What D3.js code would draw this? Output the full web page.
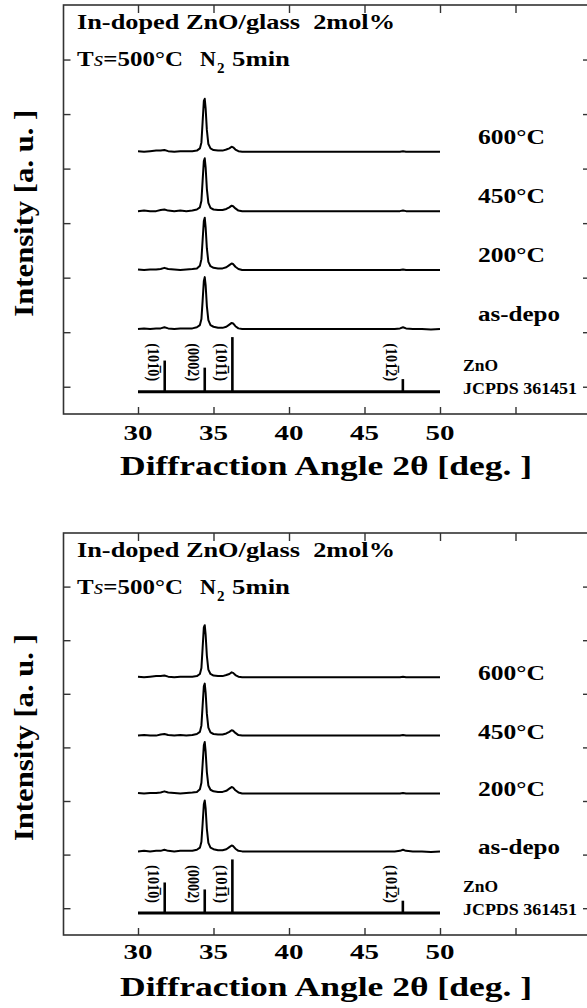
<!DOCTYPE html>
<html><head><meta charset="utf-8">
<script src="https://cdn.jsdelivr.net/npm/d3@7"></script>
<style>
body{margin:0;background:#fff}
svg text{font-family:"Liberation Serif",Tinos,"Times New Roman",serif;font-weight:700;fill:#000}
</style>
</head><body>
<svg id="c" width="587" height="1008"></svg>
<script>
// ---- data ----
const angles = [30.0,30.4,30.8,31.2,31.5,31.75,32.0,32.4,32.8,33.2,33.6,33.9,34.1,34.2,34.28,34.36,34.42,34.48,34.56,34.66,34.8,35.0,35.3,35.6,35.85,36.05,36.2,36.3,36.45,36.65,36.9,37.3,37.8,38.5,39.2,40.0,40.8,41.6,42.4,43.2,44.0,44.8,45.6,46.4,47.0,47.35,47.55,47.75,48.2,48.8,49.4,50.0];
const asDepo = [0.00,0.01,0.00,0.01,0.01,0.03,0.01,0.00,0.01,0.01,0.01,0.03,0.07,0.18,0.52,0.88,0.95,0.80,0.42,0.16,0.07,0.04,0.02,0.02,0.04,0.08,0.11,0.10,0.05,0.01,0.00,0.00,0.00,0.00,0.00,0.00,0.00,0.00,0.00,0.00,0.00,0.00,0.00,0.00,0.00,0.01,0.03,0.01,0.00,0.00,-0.01,0.00];
const t200 = [0.01,0.00,0.01,0.01,0.02,0.04,0.02,0.01,0.00,0.01,0.02,0.03,0.08,0.20,0.55,0.90,0.96,0.78,0.40,0.15,0.07,0.04,0.03,0.03,0.05,0.09,0.12,0.11,0.06,0.02,0.00,0.00,0.00,0.00,0.00,0.00,0.00,0.00,0.00,0.00,0.00,0.00,0.00,0.00,0.00,0.00,0.01,0.00,0.00,0.00,0.00,0.00];
const t450 = [0.00,0.01,0.00,0.00,0.02,0.03,0.01,0.00,0.01,0.00,0.01,0.03,0.07,0.19,0.56,0.92,0.97,0.80,0.41,0.15,0.06,0.03,0.02,0.02,0.04,0.07,0.10,0.09,0.05,0.01,0.00,0.00,0.00,0.00,0.00,0.00,0.00,0.00,0.00,0.00,0.00,0.00,0.00,0.00,0.00,0.00,0.01,0.00,0.00,0.00,0.00,0.00];
const t600 = [0.01,0.00,0.01,0.02,0.02,0.03,0.01,0.00,0.01,0.01,0.01,0.02,0.06,0.17,0.55,0.93,0.97,0.79,0.40,0.14,0.06,0.03,0.02,0.02,0.04,0.06,0.09,0.08,0.04,0.01,0.00,0.00,0.00,0.00,0.00,0.00,0.00,0.00,0.00,0.00,0.00,0.00,0.00,0.00,0.00,0.00,0.01,0.00,0.00,0.00,0.00,0.00];
const seriesValues = [asDepo, t200, t450, t600];
const seriesNames = ["as-depo","200°C","450°C","600°C"];
const seriesOffsets = [1.06, 2.14, 3.22, 4.31];

const refAngles = [31.77, 34.42, 36.25, 47.54];
const refIntensity = [57, 44, 100, 23];
const refLabels = ["(101\u03050)", "(0002)", "(101\u03051)", "(101\u03052)"];
const refBaseline = -0.09;
const refName = ["ZnO","JCPDS 361451"];

const xTickValues = [30,35,40,45,50,55];
const xTickLabels = ["30","35","40","45","50"];
const yTickValues = [0,1,2,3,4,5,6];

const titleLine1 = "In-doped ZnO/glass\u00a0\u00a02mol%";
const xTitle = "Diffraction Angle 2θ [deg. ]";
const yTitle = "Intensity [a. u. ]";

// ---- drawing ----
const svg = d3.select("#c");
const LEFT = 62.5, RIGHT = 591;

function drawPanel(top, bottom, labelDy, tickLabelDy){
  const g = svg.append("g");
  const x = d3.scaleLinear().domain([25,60]).range([LEFT, RIGHT]);
  const y = d3.scaleLinear().domain([-0.5,7]).range([bottom, top]);

  const ax = (gen, tr) => {
    const a = g.append("g").attr("transform", tr).call(gen);
    a.select(".domain").remove();
    a.selectAll("line").attr("stroke","#333").attr("stroke-width",1.4);
  };
  ax(d3.axisBottom(x).tickValues(xTickValues).tickSize(-7).tickFormat(""), `translate(0,${bottom})`);
  ax(d3.axisTop(x).tickValues(xTickValues).tickSize(-8).tickFormat(""), `translate(0,${top})`);
  ax(d3.axisLeft(y).tickValues(yTickValues).tickSize(-7).tickFormat(""), `translate(${LEFT+1},0)`);
  ax(d3.axisRight(y).tickValues(yTickValues).tickSize(-7).tickFormat(""), `translate(${RIGHT-1},0)`);

  g.append("rect").attr("x",LEFT+1).attr("y",top).attr("width",RIGHT-LEFT).attr("height",bottom-top)
    .attr("fill","none").attr("stroke","#333").attr("stroke-width",1.6);

  g.selectAll(".tl").data(xTickLabels).enter().append("text")
    .attr("x", d=>x(+d)).attr("y", bottom+tickLabelDy)
    .attr("text-anchor","middle").attr("font-size",22)
    .attr("textLength",29).attr("lengthAdjust","spacingAndGlyphs").text(d=>d);

  g.append("text").attr("x",326).attr("y",bottom+61).attr("text-anchor","middle")
    .attr("font-size",27).attr("textLength",412).attr("lengthAdjust","spacingAndGlyphs").text(xTitle);
  const yc = top + (bottom-top)*0.509;
  g.append("text").attr("transform",`translate(24,${yc}) rotate(-90)`).attr("text-anchor","middle")
    .attr("dominant-baseline","central")
    .attr("font-size",27).attr("textLength",207).attr("lengthAdjust","spacingAndGlyphs").text(yTitle);

  g.append("text").attr("x",77).attr("y",top+24).attr("font-size",22)
    .attr("textLength",318).attr("lengthAdjust","spacingAndGlyphs").text(titleLine1);
  const t2 = g.append("text").attr("x",77).attr("y",top+61).attr("font-size",22)
    .attr("textLength",106).attr("lengthAdjust","spacingAndGlyphs");
  t2.append("tspan").text("T");
  t2.append("tspan").attr("font-style","italic").attr("font-weight","normal").text("s");
  t2.append("tspan").text("=500°C");
  g.append("text").attr("x",200).attr("y",top+61).attr("font-size",22).text("N");
  g.append("text").attr("x",217).attr("y",top+68).attr("font-size",15).text("2");
  g.append("text").attr("x",232).attr("y",top+61).attr("font-size",22)
    .attr("textLength",58).attr("lengthAdjust","spacingAndGlyphs").text("5min");

  const line = d3.line().x(d=>x(d[0])).y(d=>y(d[1]));
  seriesValues.forEach((vals,i)=>{
    const pts = angles.map((a,k)=>[a, vals[k] + seriesOffsets[i]]);
    g.append("path").attr("d", line(pts)).attr("fill","none").attr("stroke","#000")
      .attr("stroke-width",2).attr("stroke-linejoin","round");
    const isC = seriesNames[i].indexOf("°C")>=0;
    g.append("text").attr("x",478).attr("y", y(seriesOffsets[i]) + labelDy)
      .attr("font-size",20).attr("textLength", isC?67:82).attr("lengthAdjust","spacingAndGlyphs")
      .text(seriesNames[i]);
  });

  g.append("line").attr("x1",x(30)).attr("x2",x(50)).attr("y1",y(refBaseline)).attr("y2",y(refBaseline))
    .attr("stroke","#000").attr("stroke-width",3);
  g.selectAll(".stk").data(refAngles).enter().append("line")
    .attr("x1",d=>x(d)).attr("x2",d=>x(d))
    .attr("y1",y(refBaseline)).attr("y2",(d,i)=>y(refBaseline + refIntensity[i]/100))
    .attr("stroke","#000").attr("stroke-width",2.6);
  refAngles.forEach((a,i)=>{
    g.append("text").attr("transform",`translate(${x(a)-11},${y(0.45)}) rotate(90)`)
      .attr("text-anchor","middle").attr("dominant-baseline","central").attr("font-size",16)
      .attr("textLength",38).attr("lengthAdjust","spacingAndGlyphs")
      .text(refLabels[i]);
  });
  g.append("text").attr("x",463).attr("y",y(refBaseline)-21).attr("font-size",16)
    .attr("textLength",35).attr("lengthAdjust","spacingAndGlyphs").text(refName[0]);
  g.append("text").attr("x",463).attr("y",y(refBaseline)+2).attr("font-size",16)
    .attr("textLength",114).attr("lengthAdjust","spacingAndGlyphs").text(refName[1]);
}

drawPanel(5, 414, -8, 26);
drawPanel(533, 935, 3, 24);
</script>
</body></html>
